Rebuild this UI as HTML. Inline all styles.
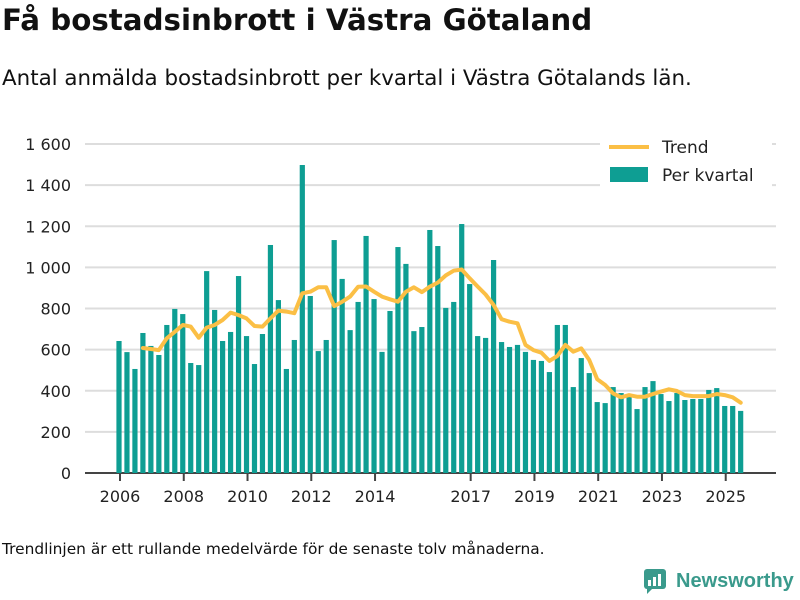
<!DOCTYPE html>
<html><head><meta charset="utf-8"><style>
body{margin:0;width:800px;height:600px;background:#fff;font-family:"DejaVu Sans","Liberation Sans",sans-serif;overflow:hidden;position:relative;color:#111}
#title{position:absolute;left:2px;top:3px;font-size:29.3px;font-weight:bold;margin:0}
#sub{position:absolute;left:2px;top:66px;font-size:21.4px}
#note{position:absolute;left:2px;top:540px;font-size:15.4px}
#logo{position:absolute;left:643px;top:568px;display:flex;align-items:center;color:#3a9a8c;font-size:20px;font-weight:bold;font-family:"Liberation Sans",sans-serif}
</style></head><body>
<h1 id="title">Få bostadsinbrott i Västra Götaland</h1>
<div id="sub">Antal anmälda bostadsinbrott per kvartal i Västra Götalands län.</div>
<svg id="chart" width="800" height="600" style="position:absolute;left:0;top:0"></svg>
<div id="note">Trendlinjen är ett rullande medelvärde för de senaste tolv månaderna.</div>
<div id="logo"><svg width="26" height="26" viewBox="0 0 26 26"><rect x="1" y="1" width="22" height="20" rx="3" fill="#3a9a8c"/><path d="M4 21 L4 26 L9 21Z" fill="#3a9a8c"/><rect x="5" y="12" width="3" height="6" fill="#fff"/><rect x="10" y="9" width="3" height="9" fill="#fff"/><rect x="15" y="6" width="3" height="12" fill="#fff"/></svg><span style="margin-left:7px">Newsworthy</span></div>
<script>
const values=[642,588,506,681,618,574,720,798,773,535,525,982,793,642,686,958,666,530,676,1109,841,506,647,1498,861,593,647,1133,944,695,832,1153,846,589,788,1099,1017,690,710,1182,1104,803,832,1211,919,666,657,1036,637,613,623,589,550,545,491,720,720,418,559,486,345,340,418,389,370,311,418,447,384,350,389,355,360,360,404,413,326,326,302];
const trend=[null,null,null,608,603,598,655,687,720,712,658,707,720,744,780,768,752,715,712,752,790,785,777,874,882,903,903,812,833,858,906,907,882,858,845,833,882,903,880,906,926,961,984,990,947,907,868,817,748,736,728,623,598,585,545,569,623,590,606,550,456,428,387,368,379,371,371,384,396,407,399,379,374,374,374,384,379,368,342];
const yTicks=[0,200,400,600,800,1000,1200,1400,1600];
const yTickLabels=["0","200","400","600","800","1 000","1 200","1 400","1 600"];
const xTickYears=[2006,2008,2010,2012,2014,2017,2019,2021,2023,2025];
const NS="http://www.w3.org/2000/svg";
const svg=document.getElementById('chart');
const x=i=>119+i*7.97;
const y=v=>473-v*0.2056;
function mk(t,a){const e=document.createElementNS(NS,t);for(const k in a)e.setAttribute(k,a[k]);svg.appendChild(e);return e;}
yTicks.forEach((v,k)=>{
 const g=mk('line',{x1:85,x2:776,y1:y(v),y2:y(v),stroke:v===0?'#444':'#ddd','stroke-width':2});
 
 
 const t=mk('text',{x:71,y:y(v)+6,'text-anchor':'end','font-size':16,fill:'#222'});
 t.textContent=yTickLabels[k];
 
 
});
values.forEach((v,i)=>{
 const r=mk('rect',{x:x(i)-2.6,y:y(v),width:5.2,height:473-y(v),fill:'#0e9e93'});
 
 
});
let d='';trend.forEach((v,i)=>{if(v!==null)d+=(d?'L':'M')+x(i).toFixed(1)+' '+y(v).toFixed(1);});
const p=mk('path',{d:d,fill:'none',stroke:'#fbbf45','stroke-width':4,'stroke-linejoin':'round','stroke-linecap':'round'});


xTickYears.forEach(yr=>{
 const i=(yr-2006)*4;
 const l=mk('line',{x1:x(i)+1,x2:x(i)+1,y1:474,y2:481,stroke:'#444','stroke-width':2});
 
 
 const t=mk('text',{x:x(i)+1,y:502,'text-anchor':'middle','font-size':16,fill:'#222'});
 t.textContent=yr;
 
 
});
const bg=mk('rect',{x:600,y:132,width:172,height:58,fill:'#fff'});


const ll=mk('line',{x1:609,x2:649,y1:147,y2:147,stroke:'#fbbf45','stroke-width':4});


const lt=mk('text',{x:662,y:153,'font-size':17,fill:'#222'});lt.textContent='Trend';


const ls=mk('rect',{x:610,y:167,width:38,height:15,fill:'#0e9e93'});


const lb=mk('text',{x:662,y:181,'font-size':17,fill:'#222'});lb.textContent='Per kvartal';


</script>
</body></html>
